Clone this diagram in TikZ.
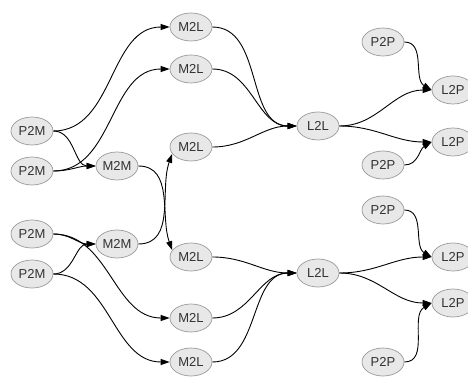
\documentclass[tikz,border=0pt]{standalone}
\usepackage{fontspec}
\setmainfont{Liberation Sans}
\usetikzlibrary{shapes.geometric,arrows.meta}

\definecolor{nodefill}{HTML}{E8E8E8}
\definecolor{nodeline}{HTML}{9A9A9A}
\definecolor{nodetext}{HTML}{333333}

\tikzset{
  opnode/.style={ellipse,draw=nodeline,fill=nodefill,line width=0.7pt,
    minimum width=42pt,minimum height=28pt,inner sep=0pt,
    text=nodetext,font=\fontsize{13}{13}\selectfont},
  flow/.style={line width=0.9pt,-{Triangle[length=9pt,width=6pt]}}
}

\begin{document}
\begin{tikzpicture}[x=1pt,y=1pt,yscale=-1,xscale=1]
  \useasboundingbox (0,0) rectangle (468,379);
  % particle to multipole
  \node[opnode] (p2mA) at (32,131) {P2M};
  \node[opnode] (p2mB) at (32,171) {P2M};
  \node[opnode] (p2mC) at (32,234) {P2M};
  \node[opnode] (p2mD) at (32,274) {P2M};
  % multipole to multipole
  \node[opnode] (m2mA) at (117,166) {M2M};
  \node[opnode] (m2mB) at (117,244) {M2M};
  % multipole to local
  \node[opnode] (m2lA) at (191,27) {M2L};
  \node[opnode] (m2lB) at (191,69) {M2L};
  \node[opnode] (m2lC) at (191,147) {M2L};
  \node[opnode] (m2lD) at (191,257) {M2L};
  \node[opnode] (m2lE) at (191,318) {M2L};
  \node[opnode] (m2lF) at (191,362) {M2L};
  % local to local
  \node[opnode] (l2lA) at (318,126) {L2L};
  \node[opnode] (l2lB) at (318,273) {L2L};
  % particle to particle
  \node[opnode] (p2pA) at (383,42) {P2P};
  \node[opnode] (p2pB) at (383,165) {P2P};
  \node[opnode] (p2pC) at (383,210) {P2P};
  \node[opnode] (p2pD) at (383,362) {P2P};
  % local to particle
  \node[opnode] (l2pA) at (453,90) {L2P};
  \node[opnode] (l2pB) at (453,142) {L2P};
  \node[opnode] (l2pC) at (453,257) {L2P};
  \node[opnode] (l2pD) at (453,303) {L2P};

  % upward pass (angles flipped by yscale=-1)
  \draw[flow] (p2mA.east) to[out=0,in=180] (m2lA.west);
  \draw[flow] (p2mB.east) to[out=0,in=180] (m2lB.west);
  \draw[flow] (p2mA.east) to[out=0,in=180] (m2mA.west);
  \draw[flow] (p2mB.east) to[out=0,in=180] (m2mA.west);
  \draw[flow] (p2mC.east) to[out=0,in=180] (m2mB.west);
  \draw[flow] (p2mD.east) to[out=0,in=180] (m2mB.west);
  \draw[flow] (p2mC.east) to[out=0,in=180] (m2lE.west);
  \draw[flow] (p2mD.east) to[out=0,in=180] (m2lF.west);
  \draw[flow] (m2mA.east) to[out=0,in=-110] (m2lD.160);
  \draw[flow] (m2mB.east) to[out=0,in=110] (m2lC.200);
  % translation
  \foreach \src in {m2lA,m2lB,m2lC}
    \draw[flow] (\src.east) to[out=0,in=180] (l2lA.west);
  \foreach \src in {m2lD,m2lE,m2lF}
    \draw[flow] (\src.east) to[out=0,in=180] (l2lB.west);
  % downward pass
  \draw[flow] (l2lA.east) to[out=0,in=180] (l2pA.west);
  \draw[flow] (l2lA.east) to[out=0,in=180] (l2pB.west);
  \draw[flow] (l2lB.east) to[out=0,in=180] (l2pC.west);
  \draw[flow] (l2lB.east) to[out=0,in=180] (l2pD.west);
  \draw[flow] (p2pA.east) to[out=0,in=-150] (l2pA.west);
  \draw[flow] (p2pB.east) to[out=0,in=150] (l2pB.west);
  \draw[flow] (p2pC.east) to[out=0,in=-150] (l2pC.west);
  \draw[flow] (p2pD.east) to[out=0,in=150] (l2pD.west);
\end{tikzpicture}
\end{document}
